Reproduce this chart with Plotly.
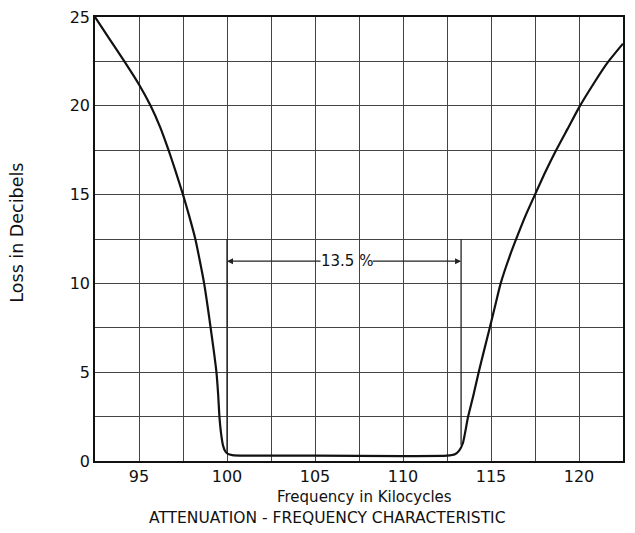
import plotly.graph_objects as go

# loss (dB) vs frequency (kc)
freq = [92.5, 93.3, 94.17, 95.0, 95.66, 96.2, 96.68, 97.1, 97.5, 97.85, 98.2,
        98.45, 98.7, 98.9, 99.07, 99.25, 99.4, 99.5, 99.57, 99.67, 99.78,
        99.9, 100.05, 100.3, 101.0, 105.0, 110.0, 112.5, 112.95, 113.2, 113.4,
        113.7, 114.0, 114.3, 114.6, 114.93, 115.25, 115.55, 116.05, 116.55,
        117.0, 117.5, 118.1, 118.7, 119.35, 120.0, 120.8, 121.6, 122.5]
loss = [25.0, 23.8, 22.5, 21.2, 20.0, 18.8, 17.5, 16.25, 15.0, 13.8, 12.5,
        11.3, 10.0, 8.7, 7.5, 6.2, 5.0, 3.7, 2.5, 1.5, 0.85,
        0.55, 0.4, 0.33, 0.3, 0.3, 0.28, 0.3, 0.38, 0.6, 1.0,
        2.5, 3.7, 5.0, 6.2, 7.5, 8.8, 10.0, 11.5, 12.8,
        13.9, 15.0, 16.3, 17.5, 18.7, 19.9, 21.2, 22.4, 23.5]

x_ticks = [92.5 + 2.5 * i for i in range(13)]
y_ticks = [2.5 * i for i in range(11)]
x_labels = ["" if v % 5 else str(int(v)) for v in x_ticks]
y_labels = ["" if v % 5 else str(int(v)) for v in y_ticks]

band_lo, band_hi = 100.0, 113.3
band_y = 11.25
band_text = "13.5 %"

FONT = "DejaVu Sans"
INK = "#111"

fig = go.Figure()
fig.add_trace(go.Scatter(x=freq, y=loss, mode="lines",
                         line=dict(color=INK, width=2.2, shape="spline", smoothing=0.6),
                         hoverinfo="skip", showlegend=False))

# band markers
for xv, y0 in [(band_lo, 0.5), (band_hi, 0.9)]:
    fig.add_shape(type="line", x0=xv, x1=xv, y0=y0, y1=12.5, xref="x", yref="y",
                  line=dict(color="#222", width=1.3))
for tip, tail in [(band_lo, 105.4), (band_hi, 108.2)]:
    fig.add_annotation(x=tip, y=band_y, ax=tail, ay=band_y, xref="x", yref="y",
                       axref="x", ayref="y", text="", showarrow=True,
                       arrowhead=2, arrowsize=1, arrowwidth=1.2, arrowcolor="#222")
fig.add_annotation(x=106.8, y=band_y, text=band_text, showarrow=False,
                   font=dict(family=FONT, size=15, color=INK))

# titles as paper annotations so the plot area stays put
fig.add_annotation(x=0.51, y=-0.082, xref="paper", yref="paper", yanchor="middle",
                   text="Frequency in Kilocycles", showarrow=False,
                   font=dict(family=FONT, size=15, color=INK))
fig.add_annotation(x=0.44, y=-0.129, xref="paper", yref="paper", yanchor="middle",
                   text="ATTENUATION - FREQUENCY CHARACTERISTIC", showarrow=False,
                   font=dict(family=FONT, size=15.5, color=INK))
fig.add_annotation(x=-0.148, y=0.514, xref="paper", yref="paper", textangle=-90,
                   xanchor="center", yanchor="middle",
                   text="Loss in Decibels", showarrow=False,
                   font=dict(family=FONT, size=17.5, color=INK))

axis_common = dict(showgrid=True, gridcolor="#444", gridwidth=1, showline=True,
                   linecolor=INK, linewidth=1.5, mirror=True, ticks="",
                   zeroline=False, automargin=False, ticklabeloverflow="allow",
                   tickfont=dict(family=FONT, size=16, color=INK))

fig.update_xaxes(range=[92.5, 122.5], tickmode="array", tickvals=x_ticks,
                 ticktext=x_labels, **axis_common)
fig.update_yaxes(range=[0, 25], tickmode="array", tickvals=y_ticks,
                 ticktext=y_labels, **axis_common)

# page body has an 8px margin and the right strip gets cut, so keep inside
fig.update_layout(width=627, height=525, margin=dict(l=87, r=12, t=9, b=72),
                  plot_bgcolor="white", paper_bgcolor="white")

fig.write_html("out.html")
